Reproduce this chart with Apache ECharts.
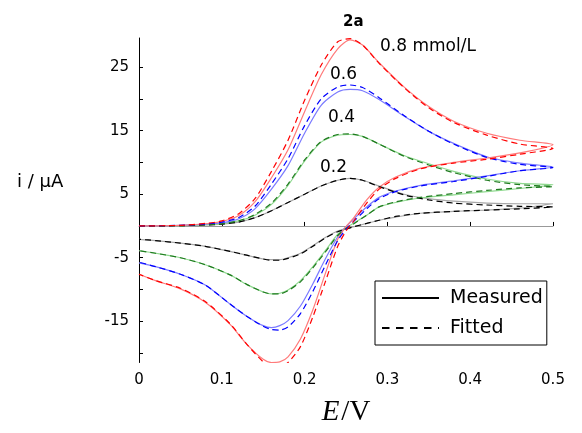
<!DOCTYPE html>
<html><head><meta charset="utf-8">
<script src="https://cdn.jsdelivr.net/npm/echarts@6/dist/echarts.min.js"></script>
<style>html,body{margin:0;padding:0;background:#fff}#c{width:582px;height:433px}</style>
</head><body><div id="c"></div>
<script>
// potential grid of the cyclic scan (V)
const E_forward = [0,0.05,0.08,0.1,0.12,0.14,0.16,0.18,0.2,0.22,0.24,0.255,0.27,0.29,0.32,0.35,0.38,0.42,0.46,0.5];
const E_reverse = [0.46,0.42,0.38,0.34,0.31,0.29,0.275,0.26,0.25,0.24,0.225,0.21,0.195,0.18,0.17,0.16,0.15,0.13,0.11,0.08,0.05,0.02,0];

// 0.8 mmol/L
const red_meas_fwd = [0,0.1,0.35,0.7,1.6,3.8,7.6,12.0,18.0,23.8,27.9,29.3,28.5,25.7,21.9,18.8,16.5,14.6,13.5,12.8];
const red_meas_rev = [11.5,10.7,10.0,9.1,7.7,6.1,4.1,1.4,-0.1,-2.1,-7.5,-13.2,-17.8,-20.6,-21.4,-21.5,-21.0,-18.6,-15.5,-12.0,-9.9,-8.6,-7.6];
const red_fit_fwd = [0,0.1,0.4,0.8,1.9,4.3,8.6,13.5,19.8,25.3,29.0,29.5,28.5,25.6,21.8,18.6,16.3,14.3,12.9,12.2];
const red_fit_rev = [11.3,10.5,9.9,9.0,7.5,5.8,3.6,0.9,-0.8,-3.2,-8.8,-14.3,-19.0,-21.5,-22.2,-22.3,-21.4,-18.6,-15.4,-11.9,-9.8,-8.6,-7.6];
// 0.6 mmol/L
const blue_meas_fwd = [0,0.1,0.3,0.5,1.1,2.7,5.8,9.5,14.6,19.0,21.1,21.5,21.3,19.9,17.3,14.9,13.0,10.9,9.9,9.3];
const blue_meas_rev = [8.7,7.9,7.1,6.4,5.5,4.5,3.0,1.2,-0.1,-1.7,-5.2,-9.1,-12.6,-14.9,-15.7,-16.0,-15.7,-14.2,-12.3,-9.3,-7.6,-6.4,-5.8];
const blue_fit_fwd = [0,0.1,0.3,0.6,1.3,3.1,6.6,10.6,15.8,20.0,21.9,22.2,21.8,20.2,17.4,14.9,12.9,10.8,9.7,9.2];
const blue_fit_rev = [8.7,7.8,7.0,6.3,5.4,4.3,2.7,0.8,-0.5,-2.3,-6.2,-10.3,-13.8,-15.9,-16.4,-16.3,-15.8,-14.2,-12.3,-9.3,-7.6,-6.4,-5.7];
// 0.4 mmol/L
const green_meas_fwd = [0,0.05,0.2,0.35,0.8,1.7,3.4,6.4,10.2,13.2,14.3,14.4,14.1,12.9,11.1,9.8,8.6,7.4,6.7,6.5];
const green_meas_rev = [5.9,5.4,4.9,4.4,3.7,3.0,1.7,0.5,-0.3,-1.3,-3.9,-6.4,-8.6,-10.1,-10.6,-10.7,-10.4,-9.2,-7.7,-6.1,-5.0,-4.3,-3.9];
const green_fit_fwd = [0,0.05,0.2,0.35,0.8,1.8,3.6,6.6,10.4,13.3,14.4,14.5,14.1,12.9,11.0,9.6,8.4,7.2,6.5,6.2];
const green_fit_rev = [6.0,5.6,5.1,4.5,3.8,3.0,1.7,0.4,-0.4,-1.5,-4.1,-6.6,-8.8,-10.2,-10.7,-10.7,-10.4,-9.2,-7.7,-6.1,-5.0,-4.3,-3.9];
// 0.2 mmol/L
const black_meas_fwd = [0,0.05,0.15,0.3,0.6,1.3,2.4,3.7,5.0,6.3,7.2,7.5,7.2,6.3,5.0,4.3,3.9,3.6,3.5,3.5];
const black_meas_rev = [2.8,2.5,2.3,2.0,1.4,0.9,0.4,-0.1,-0.4,-0.8,-1.8,-3.1,-4.3,-5.0,-5.3,-5.3,-5.2,-4.6,-4.0,-3.2,-2.7,-2.3,-2.1];
const black_fit_fwd = [0,0.05,0.15,0.3,0.6,1.3,2.4,3.7,5.0,6.3,7.2,7.5,7.2,6.2,4.9,4.1,3.6,3.3,3.1,3.0];
const black_fit_rev = [2.7,2.5,2.3,2.0,1.5,0.9,0.4,-0.1,-0.5,-0.9,-1.9,-3.2,-4.4,-5.1,-5.4,-5.4,-5.2,-4.6,-4.0,-3.2,-2.7,-2.3,-2.1];

const yTickValues = [-20,-15,-10,-5,0,5,10,15,20,25];
const yLabelValues = [-15,-5,5,15,25];
const concentrationLabels = ['0.8 mmol/L','0.6','0.4','0.2'];
const legendNames = ['Measured','Fitted'];

function loop(fwd, rev){
  const pts = [];
  E_forward.forEach((e,k)=>pts.push([e,fwd[k]]));
  E_reverse.forEach((e,k)=>pts.push([e,rev[k]]));
  return pts;
}
const FONT = 'DejaVu Sans';
const sets = [
  {meas:[black_meas_fwd,black_meas_rev], fit:[black_fit_fwd,black_fit_rev], light:'#a8a8a8', dark:'#000000'},
  {meas:[green_meas_fwd,green_meas_rev], fit:[green_fit_fwd,green_fit_rev], light:'#8fd98f', dark:'#1f7a1f'},
  {meas:[blue_meas_fwd,blue_meas_rev], fit:[blue_fit_fwd,blue_fit_rev], light:'#7b7bff', dark:'#0000ff'},
  {meas:[red_meas_fwd,red_meas_rev], fit:[red_fit_fwd,red_fit_rev], light:'#ff7b7b', dark:'#ff0000'}
];
const series = [];
sets.forEach(s=>{
  series.push({type:'line', data:loop(s.meas[0],s.meas[1]), showSymbol:false, symbol:'none', smooth:0.25,
    lineStyle:{color:s.light, width:1.2, type:'solid'}, silent:true, z:2});
});
sets.forEach(s=>{
  series.push({type:'line', data:loop(s.fit[0],s.fit[1]), showSymbol:false, symbol:'none', smooth:0.25,
    lineStyle:{color:s.dark, width:1.2, type:[6,4]}, silent:true, z:3});
});
series.push({name:legendNames[0], type:'line', data:[], symbol:'none', lineStyle:{color:'#000', width:1.8, type:'solid'}, itemStyle:{color:'#000'}});
series.push({name:legendNames[1], type:'line', data:[], symbol:'none', lineStyle:{color:'#000', width:1.8, type:[7.5,6.5]}, itemStyle:{color:'#000'}});

const chart = echarts.init(document.getElementById('c'), null, {renderer:'canvas'});
chart.setOption({
  animation:false,
  backgroundColor:'#fff',
  title:{text:'2a', left:343, top:15, padding:0, textStyle:{fontFamily:FONT, fontSize:15, fontWeight:'bold', color:'#000'}},
  grid:{left:139, right:29, top:38, bottom:70.5},
  legend:{data:legendNames, orient:'vertical', left:375, top:281, padding:[6,4,6,6], itemWidth:57, itemHeight:14, itemGap:8,
    borderColor:'#000', borderWidth:1, selectedMode:false, backgroundColor:'#fff',
    itemStyle:{opacity:0, borderWidth:0},
    textStyle:{fontFamily:FONT, fontSize:19, lineHeight:22, color:'#000', padding:[0,0,0,6]}},
  xAxis:{type:'value', min:0, max:0.5, interval:0.1,
    name:'{e|E}{s|/V}', nameLocation:'middle', nameGap:35,
    nameTextStyle:{rich:{e:{fontFamily:'Liberation Serif', fontStyle:'italic', fontSize:29, color:'#000'}, s:{fontFamily:'Liberation Serif', fontSize:29, color:'#000', padding:[0,0,0,2]}}},
    axisLine:{lineStyle:{color:'#999', width:1}},
    axisTick:{inside:true, length:4, lineStyle:{color:'#000'}},
    axisLabel:{fontFamily:FONT, fontSize:15, color:'#000', margin:10},
    splitLine:{show:false}},
  yAxis:{type:'value', min:-21.5, max:29.6,
    axisLine:{show:true, lineStyle:{color:'#000', width:1}},
    axisTick:{show:true, inside:true, length:4, customValues:yTickValues, lineStyle:{color:'#000'}},
    axisLabel:{fontFamily:FONT, fontSize:15, color:'#000', margin:10, customValues:yLabelValues},
    splitLine:{show:false}},
  graphic:[
    {type:'text', left:17, top:173, style:{text:'i / µA', font:'18px "DejaVu Sans"', fill:'#000'}},
    {type:'text', left:380, top:38, style:{text:concentrationLabels[0], font:'17px "DejaVu Sans"', fill:'#000'}},
    {type:'text', left:330, top:66, style:{text:concentrationLabels[1], font:'17px "DejaVu Sans"', fill:'#000'}},
    {type:'text', left:328, top:109, style:{text:concentrationLabels[2], font:'17px "DejaVu Sans"', fill:'#000'}},
    {type:'text', left:320, top:159, style:{text:concentrationLabels[3], font:'17px "DejaVu Sans"', fill:'#000'}}
  ],
  series:series
});
</script></body></html>
